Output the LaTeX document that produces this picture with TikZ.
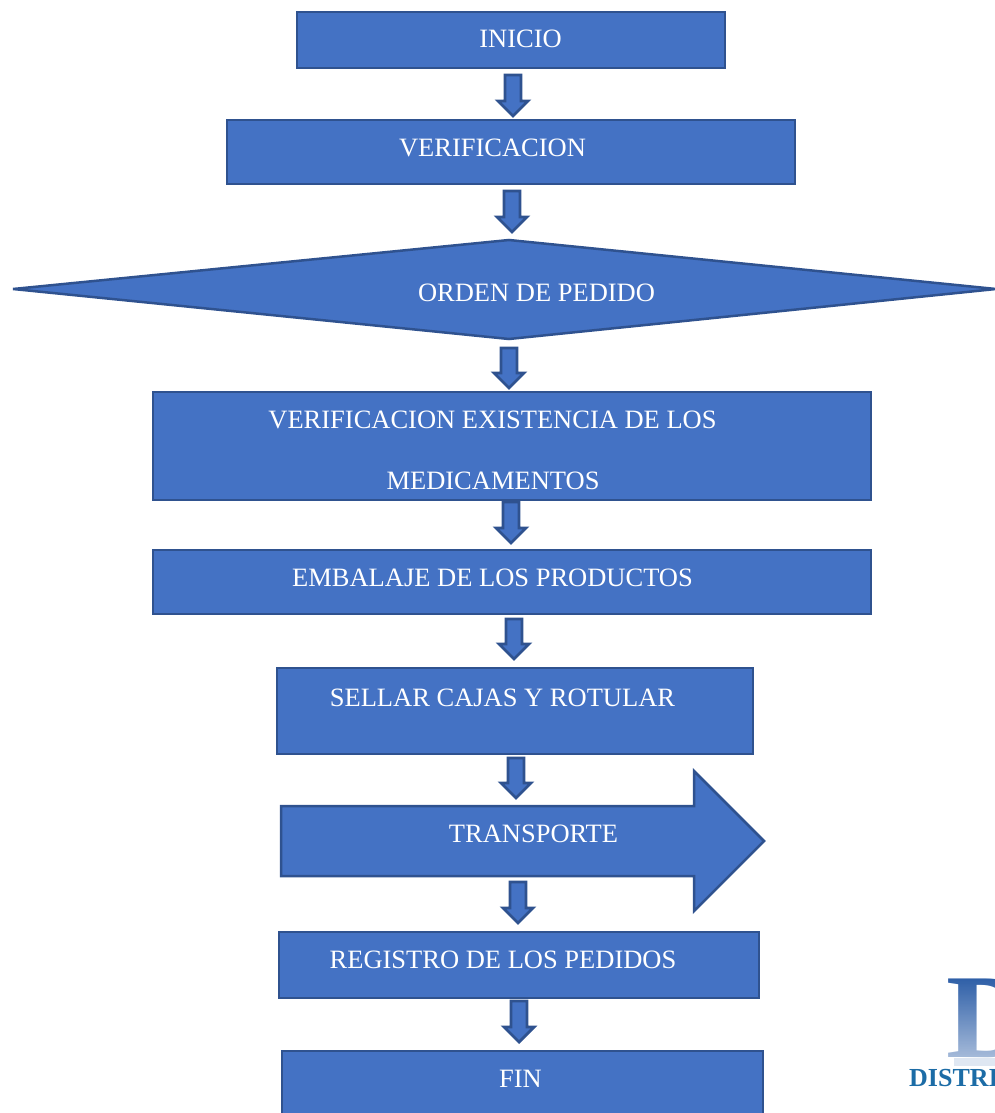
\documentclass[tikz,border=0pt]{standalone}
\usepackage{fontspec}
\setmainfont{Liberation Serif}
\usetikzlibrary{fadings}
\definecolor{fillblue}{HTML}{4472C4}
\definecolor{edgeblue}{HTML}{2F528F}
\definecolor{logoblue}{HTML}{1C6CA6}
\definecolor{logod}{HTML}{2A5CA6}
\tikzset{
  shapebox/.style={draw=edgeblue,line width=2.5pt,fill=fillblue,line join=miter},
  label/.style={text=white,font=\fontsize{26.5}{30}\selectfont,inner sep=0pt,anchor=center},
  blockarrow/.style={draw=edgeblue,line width=2.8pt,fill=fillblue,line join=miter}
}
% centre x, top y, tip y
\newcommand{\blockdown}[3]{%
  \path[blockarrow] ({#1-8},#2) -- ({#1+8},#2) -- ({#1+8},{#3-16}) -- ({#1+15},{#3-16})
    -- (#1,{#3-1}) -- ({#1-15},{#3-16}) -- ({#1-8},{#3-16}) -- cycle;}
\begin{document}
\begin{tikzpicture}[x=1pt,y=-1pt]
\useasboundingbox (0,0) rectangle (995,1113);
\clip (0,0) rectangle (995,1113);
% boxes
\path[shapebox] (297,12) rectangle (725,68);
\node[label] (inicio) at (520.5,39) {INICIO};
\path[shapebox] (227,120) rectangle (795,184);
\node[label] (verif) at (492.5,148) {VERIFICACION};
\path[shapebox] (13,289) -- (509,240) -- (996,289) -- (509,339) -- cycle;
\node[label] (orden) at (536.5,293) {ORDEN DE PEDIDO};
\path[shapebox] (153,392) rectangle (871,500);
\node[label] (exist1) at (492.5,420) {VERIFICACION EXISTENCIA DE LOS};
\node[label] (exist2) at (493,481) {MEDICAMENTOS};
\path[shapebox] (153,550) rectangle (871,614);
\node[label] (embalaje) at (492.5,578) {EMBALAJE DE LOS PRODUCTOS};
\path[shapebox] (277,668) rectangle (753,754);
\node[label] (sellar) at (502.5,698) {SELLAR CAJAS Y ROTULAR};
\path[shapebox] (281,806) -- (694,806) -- (694,771) -- (764,841) -- (694,911) -- (694,876) -- (281,876) -- cycle;
\node[label] (transporte) at (533.5,834) {TRANSPORTE};
\path[shapebox] (279,932) rectangle (759,998);
\node[label] (registro) at (503,960) {REGISTRO DE LOS PEDIDOS};
\path[shapebox] (282,1051) rectangle (763,1125);
\node[label] (fin) at (520.5,1079) {FIN};
% block arrows
\blockdown{513}{75}{117}
\blockdown{512}{191}{233}
\blockdown{509}{348}{389}
\blockdown{511}{502}{544}
\blockdown{514}{619}{660}
\blockdown{516}{758}{799}
\blockdown{518}{882}{924}
\blockdown{519}{1001}{1043}
% logo
\node[text=logod,inner sep=0pt,anchor=base west,font=\bfseries\fontsize{120}{120}\selectfont] (logoD) at (946,1057) {D};
\path[top color=white,bottom color=white,fill opacity=0.6,path fading=north] (940,1060) rectangle (995,975);
\fill[logod!15] (954,1058) rectangle (995,1066);
\node[text=logoblue,inner sep=0pt,anchor=base west,font=\bfseries\fontsize{26}{26}\selectfont] (logotext) at (909,1086) {DISTRI};
\end{tikzpicture}
\end{document}
